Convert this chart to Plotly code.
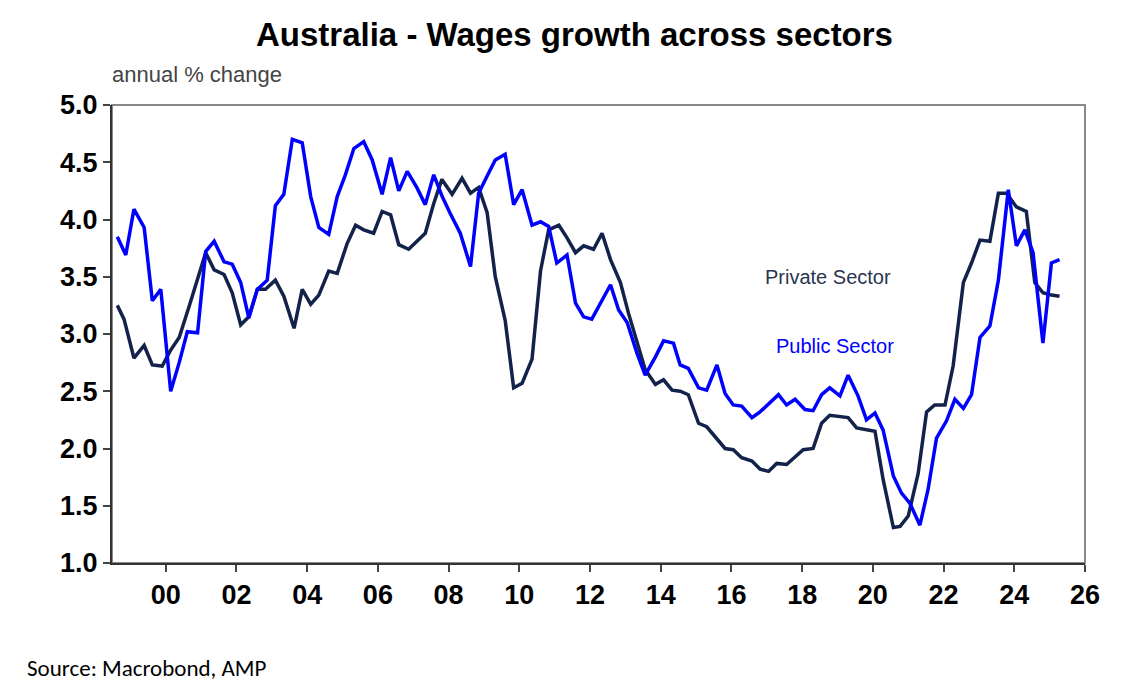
import plotly.graph_objects as go

priv_x = [1998.63,1998.82,1999.1,1999.39,1999.62,1999.9,2000.14,2000.38,2000.66,2000.9,2001.13,2001.37,2001.65,2001.88,2002.12,2002.35,2002.59,2002.82,2003.1,2003.34,2003.63,2003.86,2004.1,2004.33,2004.61,2004.85,2005.13,2005.37,2005.6,2005.88,2006.12,2006.36,2006.59,2006.87,2007.1,2007.34,2007.58,2007.81,2008.1,2008.38,2008.62,2008.85,2009.09,2009.32,2009.6,2009.84,2010.08,2010.36,2010.6,2010.83,2011.12,2011.35,2011.59,2011.82,2012.1,2012.34,2012.58,2012.86,2013.09,2013.33,2013.56,2013.85,2014.08,2014.32,2014.55,2014.78,2015.07,2015.3,2015.59,2015.82,2016.05,2016.29,2016.58,2016.81,2017.05,2017.28,2017.56,2017.8,2018.03,2018.31,2018.55,2018.78,2019.07,2019.3,2019.54,2019.82,2020.06,2020.29,2020.58,2020.77,2021.0,2021.28,2021.52,2021.75,2022.04,2022.27,2022.56,2022.79,2023.03,2023.31,2023.55,2023.78,2024.06,2024.34,2024.58,2024.81,2025.05,2025.28]
priv_y = [3.25,3.13,2.79,2.90,2.73,2.72,2.86,2.97,3.24,3.47,3.71,3.56,3.52,3.36,3.08,3.15,3.39,3.39,3.47,3.33,3.05,3.39,3.26,3.34,3.55,3.53,3.79,3.95,3.91,3.88,4.07,4.04,3.78,3.74,3.81,3.88,4.14,4.35,4.22,4.36,4.23,4.28,4.06,3.50,3.12,2.53,2.57,2.78,3.55,3.91,3.95,3.84,3.71,3.77,3.74,3.88,3.65,3.45,3.18,2.92,2.69,2.56,2.60,2.51,2.50,2.47,2.22,2.19,2.08,2.00,1.99,1.92,1.89,1.82,1.80,1.87,1.86,1.93,1.99,2.00,2.22,2.29,2.28,2.27,2.18,2.16,2.15,1.73,1.31,1.32,1.41,1.78,2.32,2.38,2.38,2.72,3.45,3.62,3.82,3.81,4.23,4.23,4.11,4.07,3.45,3.36,3.34,3.33]

pub_x = [1998.63,1998.87,1999.1,1999.39,1999.62,1999.86,2000.14,2000.38,2000.61,2000.9,2001.13,2001.37,2001.65,2001.88,2002.12,2002.35,2002.59,2002.87,2003.1,2003.34,2003.58,2003.86,2004.1,2004.33,2004.61,2004.85,2005.08,2005.32,2005.6,2005.84,2006.12,2006.36,2006.59,2006.83,2007.1,2007.34,2007.58,2007.82,2008.05,2008.33,2008.62,2008.85,2009.09,2009.32,2009.6,2009.84,2010.08,2010.36,2010.6,2010.83,2011.06,2011.35,2011.59,2011.82,2012.05,2012.34,2012.58,2012.81,2013.05,2013.33,2013.56,2013.85,2014.08,2014.36,2014.55,2014.78,2015.07,2015.3,2015.59,2015.82,2016.05,2016.29,2016.58,2016.81,2017.09,2017.33,2017.56,2017.8,2018.08,2018.31,2018.55,2018.78,2019.07,2019.3,2019.58,2019.82,2020.06,2020.29,2020.58,2020.81,2021.05,2021.33,2021.56,2021.8,2022.08,2022.32,2022.56,2022.79,2023.03,2023.31,2023.55,2023.83,2024.06,2024.3,2024.53,2024.81,2025.05,2025.28]
pub_y = [3.85,3.69,4.09,3.93,3.29,3.39,2.50,2.75,3.02,3.01,3.72,3.81,3.63,3.61,3.45,3.14,3.39,3.47,4.12,4.22,4.70,4.67,4.20,3.93,3.87,4.20,4.39,4.62,4.68,4.52,4.22,4.54,4.25,4.42,4.28,4.13,4.39,4.20,4.05,3.88,3.59,4.23,4.38,4.52,4.57,4.13,4.26,3.95,3.98,3.94,3.62,3.69,3.27,3.15,3.13,3.30,3.43,3.21,3.10,2.83,2.64,2.80,2.94,2.92,2.73,2.70,2.53,2.51,2.73,2.48,2.38,2.37,2.27,2.32,2.40,2.47,2.38,2.43,2.34,2.33,2.47,2.53,2.46,2.64,2.46,2.25,2.31,2.16,1.76,1.61,1.52,1.33,1.64,2.09,2.24,2.43,2.35,2.47,2.97,3.07,3.47,4.26,3.77,3.91,3.71,2.92,3.62,3.65]

x_ticks = list(range(2000, 2027, 2))
x_labels = ["00","02","04","06","08","10","12","14","16","18","20","22","24","26"]
y_ticks = [1.0,1.5,2.0,2.5,3.0,3.5,4.0,4.5,5.0]
y_labels = ["1.0","1.5","2.0","2.5","3.0","3.5","4.0","4.5","5.0"]

W, H = 1140, 696
l, r, t, b = 104, 63, 97, 141
pw, ph = W - l - r, H - t - b
OFF = 8  # page body margin

def px2paper(px, py):
    return (px - OFF - l) / pw, 1 - (py - OFF - t) / ph

fig = go.Figure()
fig.add_trace(go.Scatter(x=priv_x, y=priv_y, mode="lines", name="Private Sector",
                         line=dict(color="#13224a", width=3.5)))
fig.add_trace(go.Scatter(x=pub_x, y=pub_y, mode="lines", name="Public Sector",
                         line=dict(color="#0000ff", width=3.5)))

fig.add_shape(type="rect", xref="paper", yref="paper", x0=0, x1=1, y0=0, y1=1,
              line=dict(color="#888888", width=2), layer="below")

tf = dict(size=27, family="Liberation Sans, Arial", weight="bold", color="black")
fig.update_layout(
    width=W, height=H, showlegend=False,
    paper_bgcolor="white", plot_bgcolor="white",
    margin=dict(l=l, r=r, t=t, b=b),
    font=dict(family="Liberation Sans, Arial", color="black"),
    xaxis=dict(range=[1998.48, 2026], tickvals=x_ticks, ticktext=x_labels,
               ticks="outside", ticklen=7, tickwidth=2, tickcolor="#444",
               showline=True, linecolor="#333", linewidth=2, showgrid=False, zeroline=False,
               tickfont=tf),
    yaxis=dict(range=[1.0, 5.0], tickvals=y_ticks, ticktext=y_labels,
               ticks="outside", ticklen=7, tickwidth=2, tickcolor="#444",
               showline=True, linecolor="#333", linewidth=2, showgrid=False, zeroline=False,
               tickfont=tf),
)

ann_specs = [
    ("<b>Australia - Wages growth across sectors</b>", 574, 35, "center", dict(size=33, color="black")),
    ("annual % change", 110, 75, "left", dict(size=22, color="#444")),
    ("Private Sector", 828, 277, "center", dict(size=20, color="#2a3550")),
    ("Public Sector", 835, 346, "center", dict(size=20, color="#0000ff")),
    ("Source: Macrobond, AMP", 25, 668, "left", dict(size=23, color="black",
        family="Carlito, Liberation Sans Narrow, Liberation Sans")),
]
for text, px, py, xa, font in ann_specs:
    ax, ay = px2paper(px, py)
    fig.add_annotation(text=text, x=ax, y=ay, xref="paper", yref="paper", xanchor=xa,
                       yanchor="middle", showarrow=False, font=font)

fig.write_html("out.html")
